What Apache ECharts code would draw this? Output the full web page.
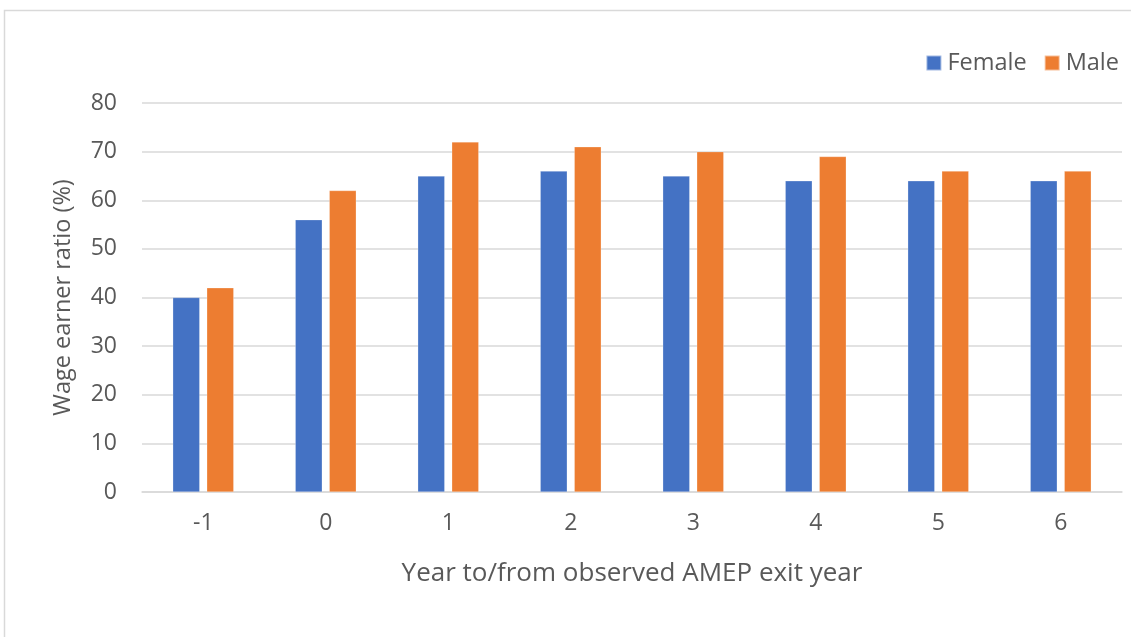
<!DOCTYPE html>
<html>
<head>
<meta charset="utf-8">
<script src="https://cdn.jsdelivr.net/npm/echarts@6/dist/echarts.min.js"></script>
<style>
html,body{margin:0;padding:0;background:#fff;}
#chart{width:1131px;height:637px;}
</style>
</head>
<body>
<div id="chart"></div>
<script>
const categories = ['-1', '0', '1', '2', '3', '4', '5', '6'];
const femaleValues = [40, 56, 65, 66, 65, 64, 64, 64];
const maleValues = [42, 62, 72, 71, 70, 69, 66, 66];
const yTicks = [0, 10, 20, 30, 40, 50, 60, 70, 80];

const FONT = '"Open Sans", sans-serif';
const chart = echarts.init(document.getElementById('chart'), null, {renderer: 'canvas'});
chart.setOption({
  animation: false,
  backgroundColor: '#ffffff',
  graphic: [{
    type: 'rect',
    shape: {x: 4.5, y: 10.5, width: 1300, height: 800},
    style: {fill: 'none', stroke: '#d9d9d9', lineWidth: 1.5},
    silent: true, z: -1
  }],
  legend: {
    right: 7, top: 46,
    itemWidth: 15, itemHeight: 15, itemGap: 17,
    icon: 'rect',
    textStyle: {fontFamily: FONT, fontSize: 23.5, color: '#595959', padding: [0, 0, 0, 1]},
    data: ['Female', 'Male']
  },
  grid: {left: 142, right: 9, top: 103, bottom: 145, containLabel: false},
  xAxis: {
    type: 'category',
    data: categories,
    name: 'Year to/from observed AMEP exit year',
    nameLocation: 'middle',
    nameGap: 69,
    nameMoveOverlap: false,
    nameTextStyle: {fontFamily: FONT, fontSize: 26, color: '#595959'},
    axisLine: {show: true, lineStyle: {color: '#d9d9d9', width: 1.5}},
    axisTick: {show: false},
    axisLabel: {fontFamily: FONT, fontSize: 23, color: '#595959', margin: 20}
  },
  yAxis: {
    type: 'value',
    min: 0, max: 80, interval: 10,
    name: 'Wage earner ratio (%)',
    nameLocation: 'middle',
    nameGap: 67,
    nameMoveOverlap: false,
    nameRotate: 90,
    nameTextStyle: {fontFamily: FONT, fontSize: 23.5, color: '#595959'},
    axisLine: {show: false},
    axisTick: {show: false},
    axisLabel: {fontFamily: FONT, fontSize: 23, color: '#595959', margin: 25,
      formatter: v => yTicks.includes(v) ? String(v) : ''},
    splitLine: {lineStyle: {color: '#d9d9d9', width: 1.5}}
  },
  series: [
    {name: 'Female', type: 'bar', data: femaleValues, barWidth: 27, barGap: '26%',
     itemStyle: {color: '#4472C4', borderColor: 'rgba(255,255,255,0.5)', borderWidth: 0.5}},
    {name: 'Male', type: 'bar', data: maleValues, barWidth: 27, barGap: '26%',
     itemStyle: {color: '#ED7D31', borderColor: 'rgba(255,255,255,0.5)', borderWidth: 0.5}}
  ]
});
</script>
</body>
</html>
